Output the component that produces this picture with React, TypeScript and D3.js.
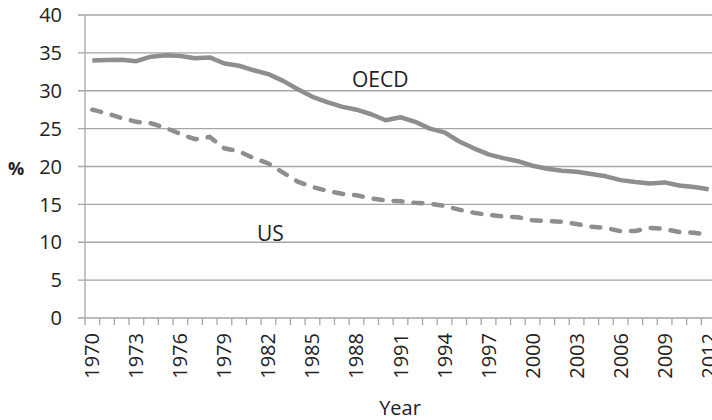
import * as d3 from "d3";

const years = d3.range(1970, 2013);
const oecd = [
    34.0, 34.05, 34.1, 33.9, 34.5, 34.7, 34.6, 34.3, 34.4, 33.6, 33.3, 32.7,
    32.2, 31.3, 30.2, 29.2, 28.5, 27.9, 27.5, 26.9, 26.1, 26.5, 25.9, 25.0,
    24.5, 23.3, 22.4, 21.6, 21.1, 20.7, 20.1, 19.7, 19.45, 19.3, 19.0, 18.7,
    18.2, 17.95, 17.75, 17.9, 17.5, 17.3, 17.0,
];
const us = [
    27.5, 27.0, 26.4, 25.9, 25.7, 25.1, 24.3, 23.6, 23.9, 22.4, 22.0, 21.1,
    20.4, 19.2, 18.0, 17.3, 16.8, 16.4, 16.2, 15.8, 15.5, 15.4, 15.2, 15.1,
    14.8, 14.3, 13.9, 13.6, 13.4, 13.3, 12.9, 12.8, 12.7, 12.4, 12.05, 11.9,
    11.45, 11.5, 11.9, 11.75, 11.35, 11.25, 11.0,
];
const yTicks = [0, 5, 10, 15, 20, 25, 30, 35, 40];
const labelYears = years.filter((y) => (y - 1970) % 3 === 0);

const width = 712;
const height = 420;
const marginLeft = 85;
const plotRight = 716;
const plotTop = 15;
const plotBottom = 318;
const font = "'Open Sans', sans-serif";
const lineColor = "#8e8e90";
const gridColor = "#a6a6a6";

export default function App() {
    const x = d3.scaleBand<number>().domain(years).range([marginLeft, plotRight]);
    const y = d3.scaleLinear([0, 40], [plotBottom, plotTop]);
    const cx = (yr: number) => (x(yr) ?? 0) + x.bandwidth() / 2;
    const line = d3
        .line<number>()
        .x((_d, i) => cx(years[i]))
        .y((d) => y(d));

    return (
        <div style={{ position: "absolute", left: 0, top: 0 }}>
            <svg width={width} height={height} fontFamily={font}>
                <rect width={width} height={height} fill="white" />
                {/* gridlines */}
                {yTicks.map((t) => (
                    <line
                        key={t}
                        x1={marginLeft - 7}
                        x2={width}
                        y1={y(t)}
                        y2={y(t)}
                        stroke={gridColor}
                        strokeWidth={1.3}
                    />
                ))}
                <line
                    x1={marginLeft}
                    x2={marginLeft}
                    y1={plotTop}
                    y2={plotBottom}
                    stroke={gridColor}
                    strokeWidth={1.3}
                />
                {/* x ticks at category boundaries */}
                {years.map((yr) => (
                    <line
                        key={yr}
                        x1={x(yr)}
                        x2={x(yr)}
                        y1={plotBottom}
                        y2={plotBottom + 7}
                        stroke={gridColor}
                        strokeWidth={1.3}
                    />
                ))}
                {/* y labels */}
                {yTicks.map((t) => (
                    <text
                        key={t}
                        x={62}
                        y={y(t)}
                        dy="0.36em"
                        textAnchor="end"
                        fontSize={20}
                        fill="#222"
                    >
                        {t}
                    </text>
                ))}
                <text x={8} y={175} fontSize={18} fontWeight="bold" fill="#222">
                    %
                </text>
                {/* x labels */}
                {labelYears.map((yr) => (
                    <text
                        key={yr}
                        transform={`translate(${cx(yr) + 7},333) rotate(-90)`}
                        textAnchor="end"
                        fontSize={20}
                        fill="#222"
                    >
                        {yr}
                    </text>
                ))}
                <text x={400} y={415} textAnchor="middle" fontSize={20} fill="#222">
                    Year
                </text>
                {/* series */}
                <path
                    d={line(oecd) || ""}
                    fill="none"
                    stroke={lineColor}
                    strokeWidth={4.5}
                    strokeLinejoin="round"
                />
                <path
                    d={line(us) || ""}
                    fill="none"
                    stroke={lineColor}
                    strokeWidth={4.5}
                    strokeDasharray="9 11"
                    strokeLinecap="round"
                />
                <text x={352} y={87} fontSize={21} fill="#222">
                    OECD
                </text>
                <text x={257} y={241} fontSize={21} fill="#222">
                    US
                </text>
            </svg>
        </div>
    );
}
